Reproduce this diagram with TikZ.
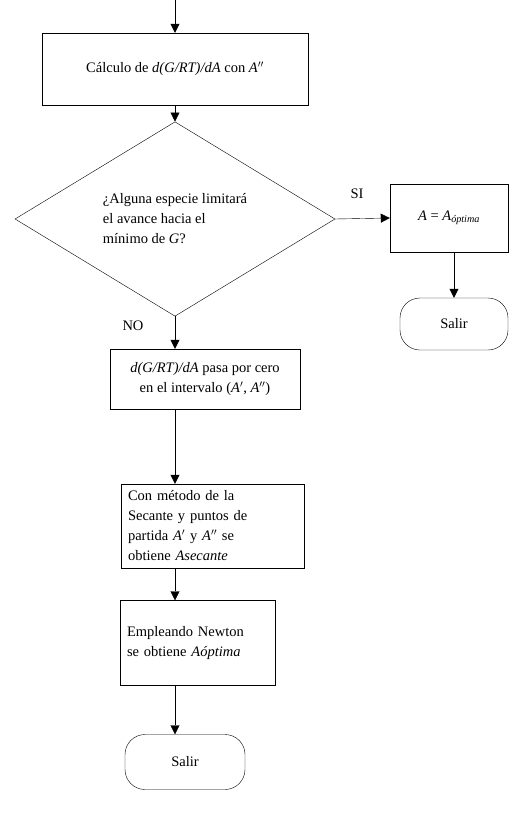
\documentclass[tikz,border=0pt]{standalone}
\usepackage{fontspec}
\setmainfont{Liberation Serif}
\usetikzlibrary{shapes.geometric, arrows.meta}

\tikzset{
    proc/.style={draw, rectangle, thin, inner sep=4pt},
    term/.style={draw, rectangle, rounded corners=20pt, thin},
    decision/.style={draw, diamond, thin, inner sep=0pt},
}

\begin{document}
\begin{tikzpicture}[>={Triangle[length=9pt, width=9pt]}, x=1pt, y=-1pt, font=\fontsize{14.5}{20}\selectfont]
    \useasboundingbox (0,0) rectangle (518,814);

    % Main column
    \coordinate (start) at (175,0);
    \node[proc, minimum width=266pt, minimum height=72pt] (calc) at (175,69)
        {Cálculo de \textit{d(G/RT)/dA} con \textit{A}$''$};
    \node[decision, minimum width=320pt, minimum height=190pt, align=left] (limit) at (175,219)
        {¿Alguna especie limitará\\el avance hacia el\\mínimo de \textit{G}?};
    \node[proc, minimum width=190pt, minimum height=60pt, align=center] (cero) at (205,379)
        {\textit{d(G/RT)/dA} pasa por cero\\en el intervalo (\textit{A}$'$, \textit{A}$''$)};
    \node[proc, minimum width=183pt, minimum height=84pt, text width=170pt, align=left] (secante) at (213,526)
        {Con método de la\\Secante y puntos de\\partida \textit{A}$'$ y \textit{A}$''$ se\\obtiene \textit{Asecante}};
    \node[proc, minimum width=155pt, minimum height=85pt, text width=142pt, align=left] (newton) at (198,643)
        {Empleando Newton\\se obtiene \textit{Aóptima}};
    \node[term, minimum width=120pt, minimum height=55pt] (salir) at (185,762) {Salir};

    % Branch SI
    \node[proc, minimum width=118pt, minimum height=68pt] (limite) at (449,218)
        {\textit{A} = \textit{A}\textsubscript{\textit{óptima}}};
    \node[term, minimum width=108pt, minimum height=52pt] (salirsi) at (454,324) {Salir};

    % Arrows
    \draw[->] (start) -- (calc.north);
    \draw[->] (calc.south) -- (limit.north);
    \draw[->] (limit.east) -- (limite.west) node[pos=0.4, above=16pt] {SI};
    \draw[->] (limite.south -| salirsi.north) -- (salirsi.north);
    \draw[->] (limit.south) -- (limit.south |- cero.north) node[pos=0.3, left=28pt] {NO};
    \draw[->] (cero.south -| limit.south) -- (secante.north -| limit.south);
    \draw[->] (secante.south -| limit.south) -- (newton.north -| limit.south);
    \draw[->] (newton.south -| limit.south) -- (salir.north -| limit.south);
\end{tikzpicture}
\end{document}
